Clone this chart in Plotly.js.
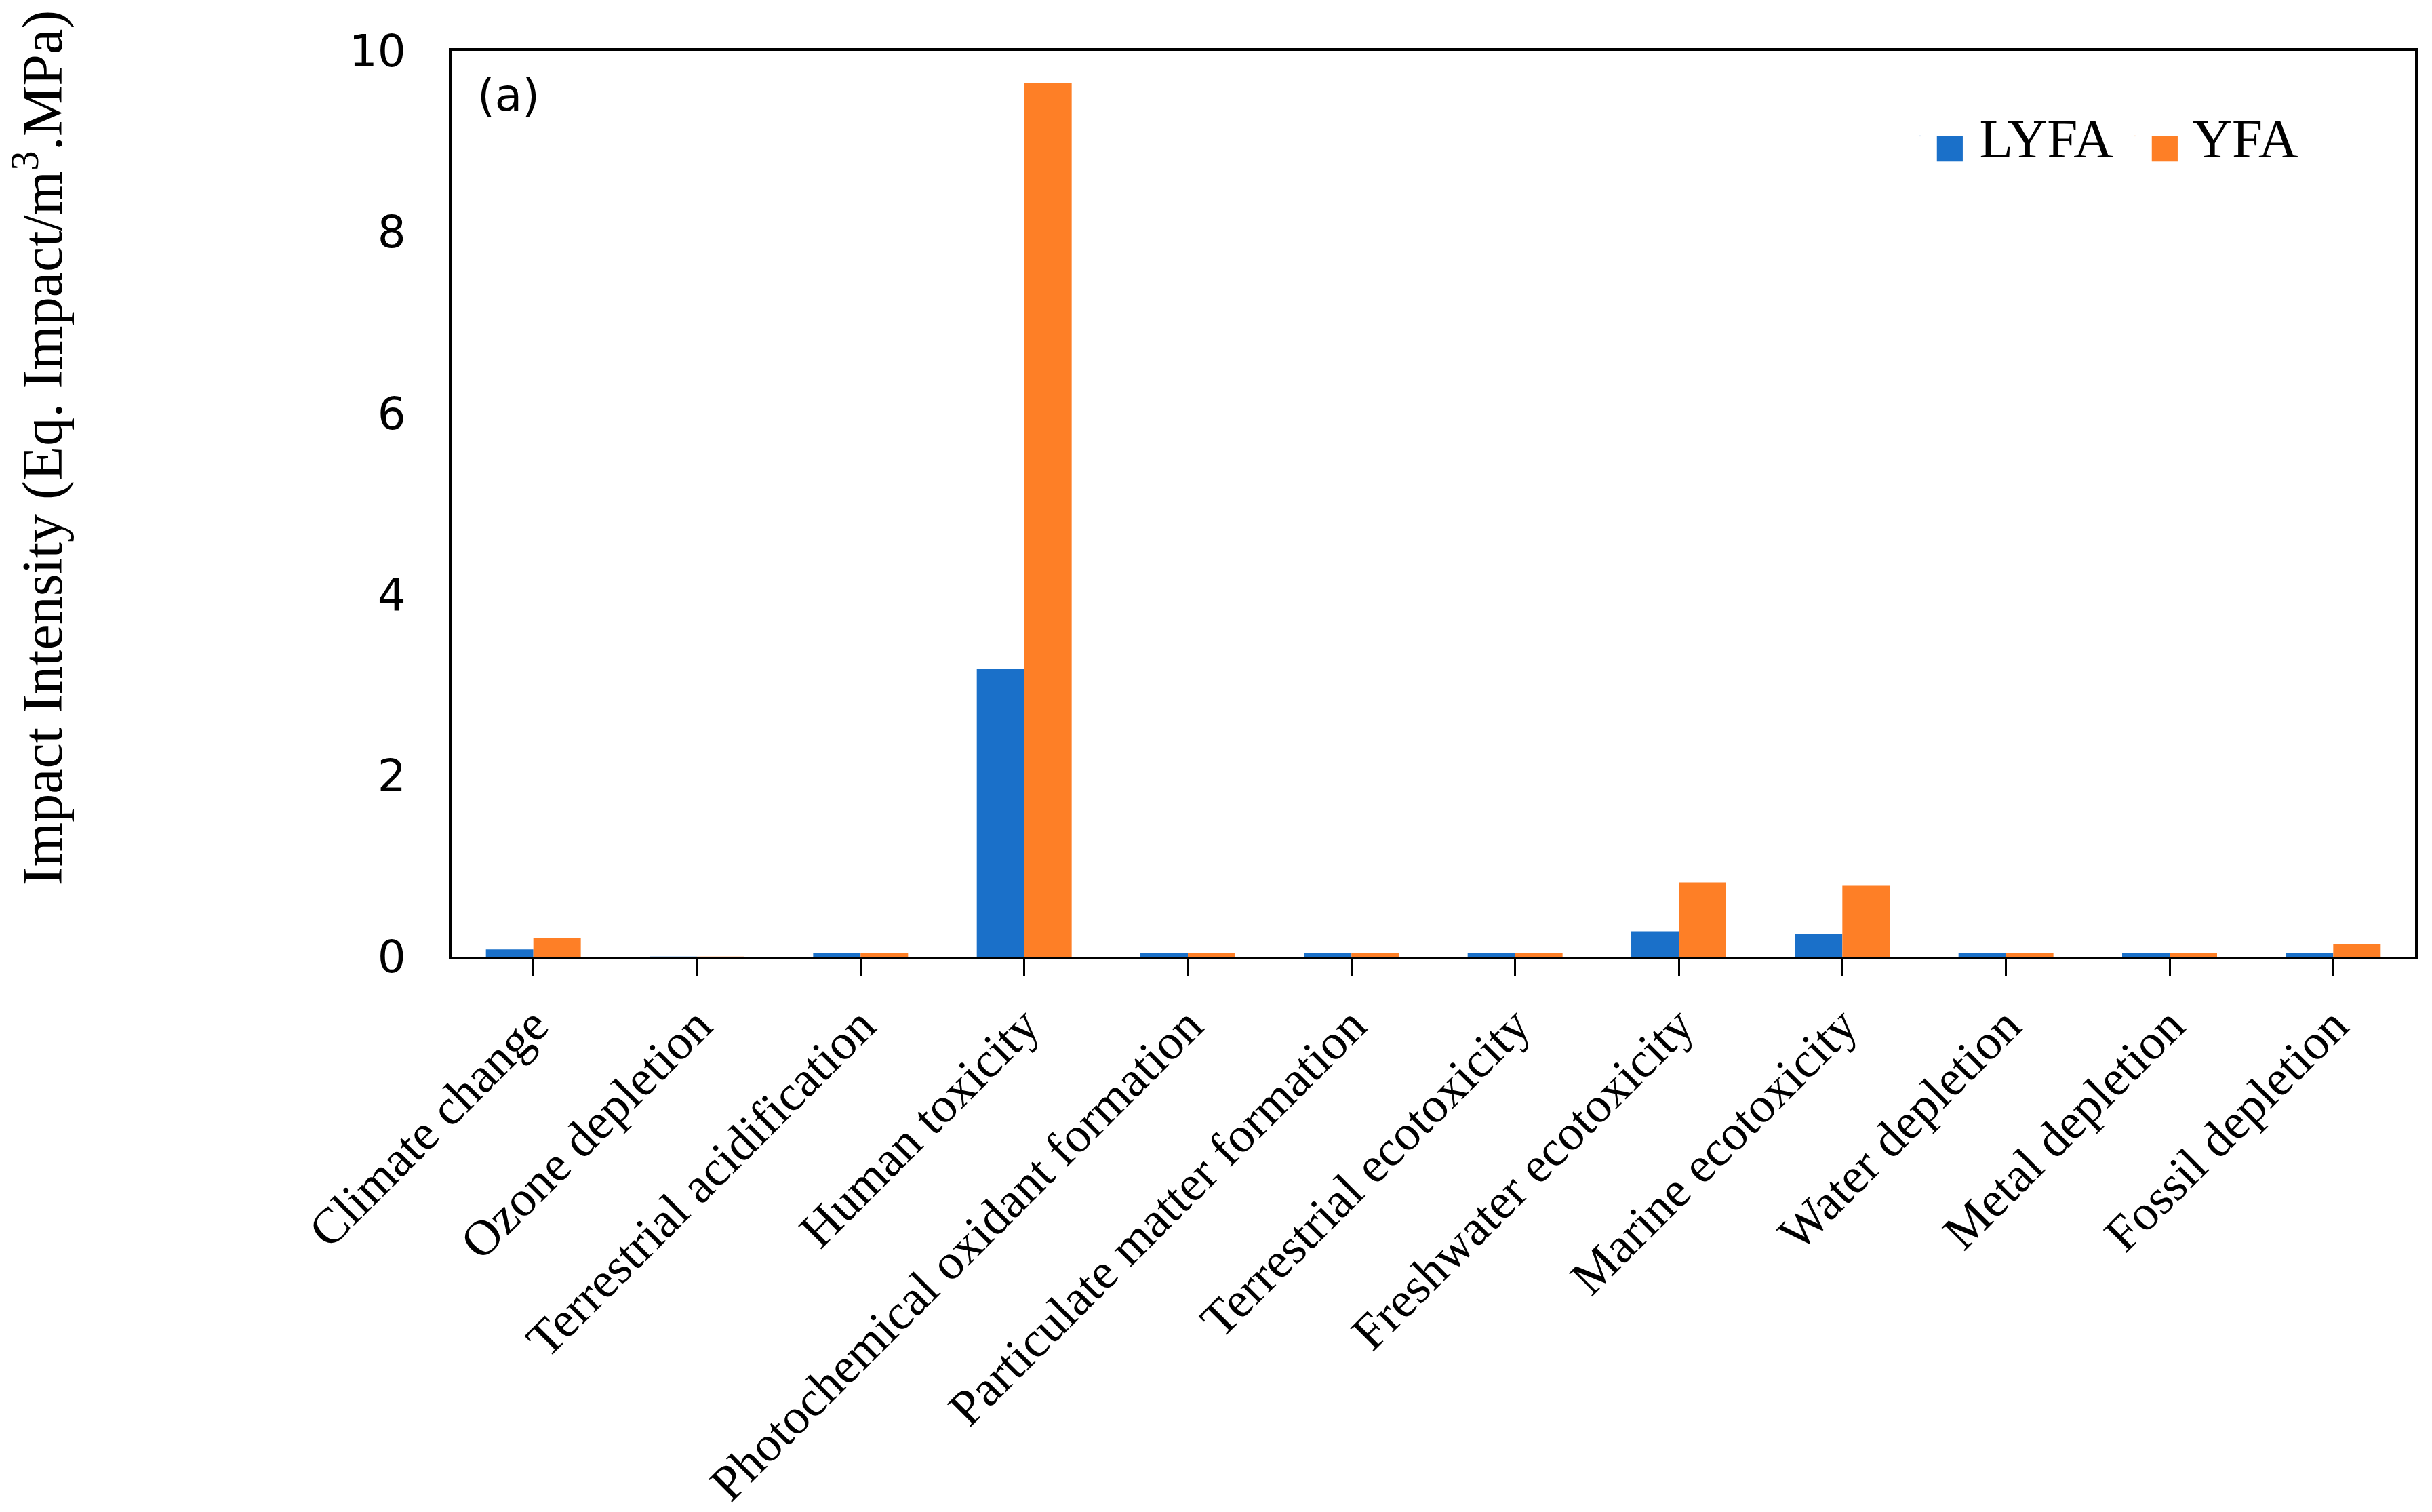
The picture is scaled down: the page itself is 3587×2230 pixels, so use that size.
<!DOCTYPE html>
<html>
<head>
<meta charset="utf-8">
<script src="https://cdn.plot.ly/plotly-3.0.1.min.js"></script>
<style>html,body{margin:0;padding:0;background:#fff;}#chart{width:3587px;height:2230px;}</style>
</head>
<body>
<div id="chart"></div>
<script>
const categories = ["Climate change", "Ozone depletion", "Terrestrial acidification", "Human toxicity",
  "Photochemical oxidant formation", "Particulate matter formation", "Terrestrial ecotoxicity",
  "Freshwater ecotoxicity", "Marine ecotoxicity", "Water depletion", "Metal depletion", "Fossil depletion"];
const lyfa = [0.08, 0.001, 0.04, 3.18, 0.04, 0.04, 0.04, 0.28, 0.25, 0.04, 0.04, 0.04];
const yfa  = [0.21, 0.001, 0.04, 9.64, 0.04, 0.04, 0.04, 0.82, 0.79, 0.04, 0.04, 0.14];
const seriesNames = ["LYFA", "YFA"];
const seriesColors = ["#1a70c9", "#fe7f26"];
const yTicks = [0, 2, 4, 6, 8, 10];

const serif = "Liberation Serif, Times New Roman, serif";
const sans = "DejaVu Sans, Verdana, sans-serif";

const traces = [
  {type: "bar", name: seriesNames[0], x: categories, y: lyfa, marker: {color: seriesColors[0]}, showlegend: false},
  {type: "bar", name: seriesNames[1], x: categories, y: yfa, marker: {color: seriesColors[1]}, showlegend: false}
];
// legend entries: coloured swatch glyph + series name
seriesNames.forEach((n, i) => {
  traces.push({type: "scatter", mode: "markers", x: [null], y: [null],
    name: '<span style="font-family:DejaVu Sans;font-size:50px;fill:' + seriesColors[i] + '">\u25A0</span> ' + n,
    marker: {size: 1, opacity: 0, color: seriesColors[i]}, showlegend: true, hoverinfo: "skip"});
});

const layout = {
  width: 3587, height: 2230,
  margin: {l: 666, r: 25, t: 75, b: 819},
  paper_bgcolor: "#fff", plot_bgcolor: "#fff",
  barmode: "group", bargap: 0.42, bargroupgap: 0,
  showlegend: true,
  legend: {orientation: "h", x: 0.741, y: 0.906, xanchor: "left", yanchor: "middle",
    font: {family: serif, size: 81, color: "#000"}, entrywidth: 272, itemwidth: 30,
    bgcolor: "rgba(0,0,0,0)"},
  xaxis: {
    type: "category", showgrid: false, zeroline: false,
    showline: true, linecolor: "#000", linewidth: 4, mirror: true,
    ticks: "outside", ticklen: 24, tickwidth: 3, tickcolor: "#000",
    tickangle: -45, tickfont: {family: serif, size: 74, color: "#000"}
  },
  yaxis: {
    range: [0, 10], tickvals: yTicks, showgrid: false, zeroline: false,
    showline: true, linecolor: "#000", linewidth: 4, mirror: true,
    ticks: "", ticklabelstandoff: 50,
    tickfont: {family: sans, size: 66, color: "#000"}
  },
  annotations: [
    {text: "(a)", xref: "paper", yref: "paper", x: 0.0124, y: 0.951, xanchor: "left", yanchor: "middle",
      showarrow: false, font: {family: sans, size: 66, color: "#000"}},
    {text: "Impact Intensity (Eq. Impact/m<sup>3</sup>.MPa)", xref: "paper", yref: "paper",
      x: -0.2103, y: 0.562, xanchor: "center", yanchor: "middle", textangle: -90,
      showarrow: false, font: {family: serif, size: 84, color: "#000"}}
  ]
};

Plotly.newPlot("chart", traces, layout, {displayModeBar: false, staticPlot: true});
</script>
</body>
</html>
